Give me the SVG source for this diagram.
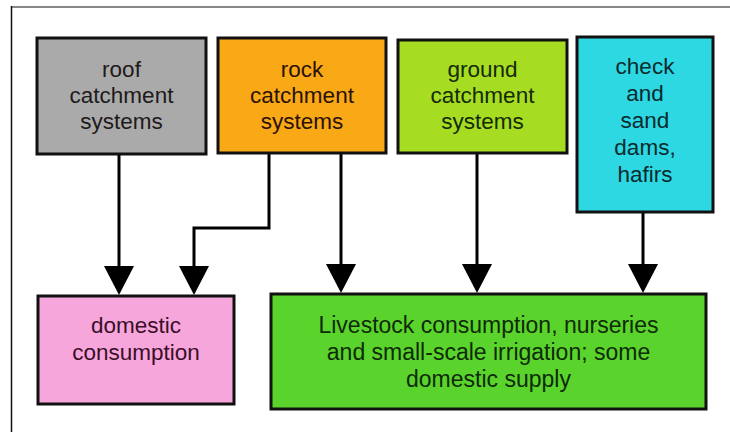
<svg xmlns="http://www.w3.org/2000/svg" width="730" height="432" viewBox="0 0 730 432">
<style>
.box{stroke:#111;stroke-width:3}
.t{font-family:"Liberation Sans",Arial,sans-serif;font-size:22.5px;text-anchor:middle}
.big{font-size:23px}
.c{fill:none;stroke:#000;stroke-width:3}
</style>
<rect width="730" height="432" fill="#fff"/>
<line x1="11" y1="7" x2="730" y2="7" stroke="#888" stroke-width="2"/>
<line x1="11.5" y1="6" x2="11.5" y2="432" stroke="#111" stroke-width="1.5"/>
<g id="connectors">
<path class="c" d="M119,154 V266"/>
<path class="c" d="M269,153 V228 H194 V266"/>
<path class="c" d="M341,153 V264"/>
<path class="c" d="M477,153 V264"/>
<path class="c" d="M643,212 V264"/>
<path d="M104,266 L134,266 L119,295 Z"/>
<path d="M179,266 L209,266 L194,295 Z"/>
<path d="M326,264 L356,264 L341,293 Z"/>
<path d="M462,264 L492,264 L477,293 Z"/>
<path d="M628,264 L658,264 L643,293 Z"/>
</g>
<g id="roof">
<rect class="box" x="37" y="38" width="169" height="116" fill="#aaaaaa"/>
<text class="t" fill="#1e1a1a"><tspan x="121.5" y="77">roof</tspan><tspan x="121.5" y="103">catchment</tspan><tspan x="121.5" y="129">systems</tspan></text>
</g>
<g id="rock">
<rect class="box" x="218" y="38" width="168" height="115" fill="#f9a816"/>
<text class="t" fill="#2a1208"><tspan x="302" y="77">rock</tspan><tspan x="302" y="103">catchment</tspan><tspan x="302" y="129">systems</tspan></text>
</g>
<g id="ground">
<rect class="box" x="398" y="40" width="169" height="113" fill="#a6dd22"/>
<text class="t" fill="#142a08"><tspan x="482.5" y="77">ground</tspan><tspan x="482.5" y="103">catchment</tspan><tspan x="482.5" y="129">systems</tspan></text>
</g>
<g id="check">
<rect class="box" x="577" y="37" width="136" height="175" fill="#2ed8e2"/>
<text class="t" fill="#0a2a2e"><tspan x="645" y="74">check</tspan><tspan x="645" y="101">and</tspan><tspan x="645" y="128">sand</tspan><tspan x="645" y="155">dams,</tspan><tspan x="645" y="182">hafirs</tspan></text>
</g>
<g id="domestic">
<rect class="box" x="38" y="296" width="196" height="108" fill="#f7a6dc"/>
<text class="t" fill="#3a0e28"><tspan x="136" y="333">domestic</tspan><tspan x="136" y="360">consumption</tspan></text>
</g>
<g id="livestock">
<rect class="box" x="271" y="294" width="435" height="115" fill="#5ad42c"/>
<text class="t big" fill="#0e2a08"><tspan x="488.5" y="333">Livestock consumption, nurseries</tspan><tspan x="488.5" y="360">and small-scale irrigation; some</tspan><tspan x="488.5" y="387">domestic supply</tspan></text>
</g>
</svg>
